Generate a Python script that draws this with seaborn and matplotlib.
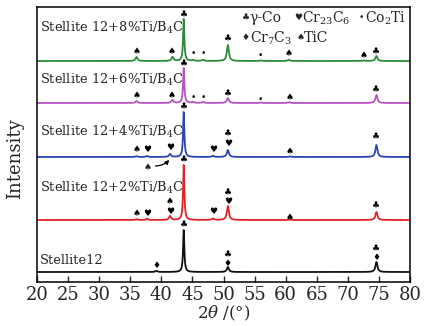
import numpy as np
import pandas as pd
import matplotlib
matplotlib.use("Agg")
import matplotlib.pyplot as plt
import seaborn as sns

# ---------------- data ----------------
series = ["Stellite12", "Stellite 12+2%Ti/B$_4$C", "Stellite 12+4%Ti/B$_4$C",
          "Stellite 12+6%Ti/B$_4$C", "Stellite 12+8%Ti/B$_4$C"]
colors = ["#111111", "#e0232b", "#2c44b4", "#b653c2", "#2e8b3c"]
offsets = [10, 62, 125, 179, 221]

# peak positions (2theta) and heights (same arbitrary units as offsets)
peaks_black_pos = [39.2, 43.6, 50.7, 74.6]
peaks_black_h = [1.2, 42, 5, 10]
peaks_red_pos = [36.0, 37.7, 41.4, 43.6, 48.3, 50.7, 60.7, 74.6]
peaks_red_h = [0.8, 1.2, 4, 55, 1.5, 14, 0.6, 8]
peaks_blue_pos = [36.0, 37.7, 41.4, 43.6, 48.3, 50.7, 60.7, 74.6]
peaks_blue_h = [0.8, 1.0, 3, 45, 1.2, 7, 0.6, 12]
peaks_purple_pos = [36.0, 41.8, 43.6, 45.1, 46.7, 50.7, 56.0, 60.5, 74.6]
peaks_purple_h = [2, 3, 35, 1, 1, 5, 0.5, 0.8, 8]
peaks_green_pos = [36.0, 41.8, 43.6, 45.1, 46.7, 50.7, 56.0, 60.5, 72.6, 74.6]
peaks_green_h = [4, 4, 42, 1, 1.2, 16, 0.6, 1.2, 0.6, 5]
main_width = 0.24
minor_width = 0.38

# phase markers: (2theta, y, symbol)
marks_black = [(39.2, 16, "♦"), (43.6, 57, "♣"), (50.7, 27, "♣"), (50.7, 18, "♦"),
               (74.6, 33, "♣"), (74.6, 24, "♦")]
marks_red = [(36.0, 68, "♠"), (37.7, 68, "♥"), (41.4, 80, "♠"), (41.4, 71, "♥"),
             (43.6, 122, "♣"), (48.3, 71, "♥"), (50.7, 89, "♣"), (50.7, 81, "♥"),
             (60.7, 65, "♠"), (74.6, 76, "♣")]
marks_blue = [(36.0, 133, "♠"), (37.7, 133, "♥"), (41.4, 134, "♥"), (43.6, 175, "♣"),
              (48.3, 133, "♥"), (50.7, 148, "♣"), (50.7, 139, "♥"), (60.7, 131, "♠"),
              (74.6, 145, "♣")]
marks_purple = [(36.0, 187, "♠"), (41.7, 187, "♠"), (43.6, 218, "♣"), (45.1, 185, "•"),
                (46.7, 185, "•"), (50.7, 188, "♣"), (56.0, 182, "•"), (60.7, 185, "♠"),
                (74.6, 192, "♣")]
marks_green = [(36.0, 230, "♠"), (41.7, 230, "♠"), (43.6, 267, "♣"), (45.1, 228, "•"),
               (46.7, 229, "•"), (50.7, 243, "♣"), (56.0, 226, "•"), (60.5, 228, "♠"),
               (72.6, 227, "♠"), (74.6, 230, "♣")]

label_y = [21, 94, 150, 202, 254]
xticks = [20, 25, 30, 35, 40, 45, 50, 55, 60, 65, 70, 75, 80]

# ---------------- build curves ----------------
x = np.arange(20.0, 80.0001, 0.02)
all_pos = [peaks_black_pos, peaks_red_pos, peaks_blue_pos, peaks_purple_pos, peaks_green_pos]
all_h = [peaks_black_h, peaks_red_h, peaks_blue_h, peaks_purple_h, peaks_green_h]
frames = []
for name, off, pos, hs in zip(series, offsets, all_pos, all_h):
    y = np.full_like(x, float(off))
    for p, h in zip(pos, hs):
        w = main_width if h >= 30 else minor_width
        y += h / (1 + ((x - p) / (w / 2)) ** 2)
    frames.append(pd.DataFrame({"2theta": x, "I": y, "series": name}))
df = pd.concat(frames, ignore_index=True)

# ---------------- plot ----------------
sns.set_style("white")
plt.rcParams["font.family"] = ["DejaVu Serif", "DejaVu Sans"]
plt.rcParams["mathtext.fontset"] = "dejavuserif"

fig = plt.figure(figsize=(4.34, 3.26), dpi=100)
ax = fig.add_axes([37 / 434, 1 - 282 / 326, 373 / 434, 275 / 326])

sns.lineplot(data=df, x="2theta", y="I", hue="series", palette=dict(zip(series, colors)),
             sort=False, estimator=None, linewidth=1.3, legend=False, ax=ax)

ax.set_xlim(20, 80)
ax.set_ylim(0, 275)
ax.set_xticks(xticks)
ax.set_xticklabels([str(t) for t in xticks])
ax.set_yticks([])
ax.tick_params(axis="x", direction="in", length=4, width=1, labelsize=13, pad=3,
               bottom=True, top=False)
for s in ax.spines.values():
    s.set_linewidth(1.1)
    s.set_color("black")
ax.set_xlabel("2$\\theta$ /(°)", fontsize=12, labelpad=0)
ax.set_ylabel("Intensity", fontsize=13)
ax.yaxis.set_label_coords(-0.035, 0.45)

sym_fam = ["DejaVu Sans"]
for marks in [marks_black, marks_red, marks_blue, marks_purple, marks_green]:
    for mx, my, s in marks:
        ax.text(mx, my, s, fontsize=6.5, ha="center", va="center", family=sym_fam, color="black")

for name, ly in zip(series, label_y):
    ax.text(20.45, ly, name, fontsize=9.4, ha="left", va="center")

# arrow with TiC marker (4% sample)
ax.text(37.8, 115, "♠", fontsize=6.5, ha="center", va="center", family=sym_fam)
ax.annotate("", xy=(41.6, 124), xytext=(38.6, 116),
            arrowprops=dict(arrowstyle="-|>", color="black", lw=0.9,
                            connectionstyle="arc3,rad=0.25", mutation_scale=6))

# phase legend
leg = [(53.6, 264, "♣", "γ-Co"), (62.1, 264, "♥", "Cr$_{23}$C$_6$"), (72.2, 264, "•", "Co$_2$Ti"),
       (53.6, 244, "♦", "Cr$_7$C$_3$"), (62.4, 244, "♠", "TiC")]
for lx, ly, s, t in leg:
    ax.text(lx, ly, s, fontsize=6.5, ha="center", va="center", family=sym_fam)
    ax.text(lx + 0.6, ly, t, fontsize=10, ha="left", va="center")

fig.savefig("out.png", dpi=100)
